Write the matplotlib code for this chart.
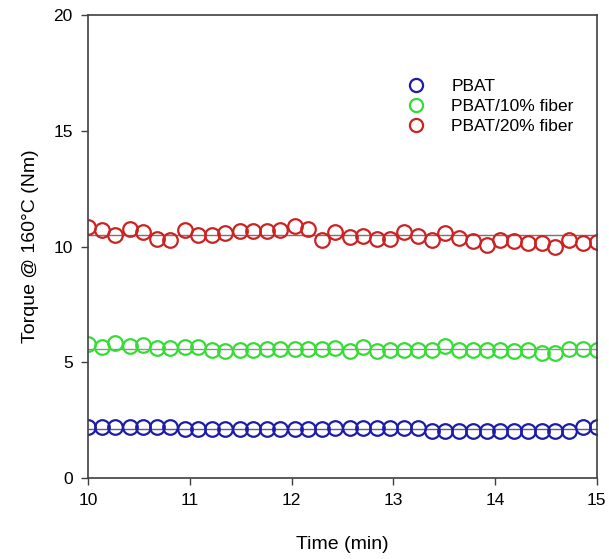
import matplotlib.pyplot as plt

plt.rcParams['font.family'] = ['Liberation Sans', 'DejaVu Sans']

# Tiempo (min)
time = [10.00, 10.14, 10.27, 10.41, 10.54, 10.68, 10.81, 10.95, 11.08, 11.22,
        11.35, 11.49, 11.62, 11.76, 11.89, 12.03, 12.16, 12.30, 12.43, 12.57,
        12.70, 12.84, 12.97, 13.11, 13.24, 13.38, 13.51, 13.65, 13.78, 13.92,
        14.05, 14.19, 14.32, 14.46, 14.59, 14.73, 14.86, 15.00]

# Torque (Nm)
pbat = [2.22, 2.22, 2.22, 2.22, 2.22, 2.22, 2.22, 2.12, 2.12, 2.12,
        2.12, 2.12, 2.12, 2.12, 2.12, 2.12, 2.12, 2.12, 2.15, 2.15,
        2.15, 2.15, 2.15, 2.15, 2.15, 2.05, 2.05, 2.05, 2.05, 2.05,
        2.05, 2.05, 2.05, 2.05, 2.05, 2.05, 2.18, 2.20]
pbat10 = [5.79, 5.67, 5.82, 5.70, 5.75, 5.60, 5.60, 5.65, 5.67, 5.53,
          5.50, 5.53, 5.53, 5.56, 5.56, 5.56, 5.56, 5.56, 5.60, 5.50,
          5.67, 5.50, 5.53, 5.53, 5.53, 5.53, 5.70, 5.53, 5.53, 5.53,
          5.53, 5.50, 5.53, 5.39, 5.41, 5.56, 5.56, 5.53]
pbat20 = [10.86, 10.71, 10.50, 10.74, 10.64, 10.31, 10.28, 10.71, 10.50, 10.50,
          10.60, 10.68, 10.68, 10.68, 10.71, 10.89, 10.74, 10.28, 10.64, 10.40,
          10.45, 10.31, 10.31, 10.64, 10.45, 10.28, 10.57, 10.35, 10.25, 10.06,
          10.28, 10.25, 10.14, 10.14, 9.99, 10.28, 10.16, 10.20]

# Nivel medio de cada serie
niveles = [2.10, 5.56, 10.48]
etiquetas = ['PBAT', 'PBAT/10% fiber', 'PBAT/20% fiber']
colores = ['#1c1caa', '#33dd33', '#cc2222']
colores_linea = ['#5a5a9a', '#7aa07a', '#8a6a6a']

fig = plt.figure(figsize=(6.09, 5.59), dpi=100)
ax = fig.add_axes([0.1445, 0.145, 0.8355, 0.828])

for serie, nivel, etq, c, cl in zip([pbat, pbat10, pbat20], niveles, etiquetas, colores, colores_linea):
    ax.plot([time[0], time[-1]], [nivel, nivel], color=cl, lw=1.0, zorder=1)
    ax.plot(time, serie, 'o', mfc='none', mec=c, mew=1.6, ms=10.5, label=etq, zorder=2)

ax.set_xlim(10, 15)
ax.set_ylim(0, 20)
ax.set_xticks(range(10, 16))
ax.set_yticks([0, 5, 10, 15, 20])
ax.tick_params(direction='out', length=5, width=1, color='#404040', labelsize=12.5, pad=6)
for s in ax.spines.values():
    s.set_color('#404040')
    s.set_linewidth(1.2)

ax.set_xlabel('Time (min)', fontsize=14, labelpad=20)
ax.set_ylabel('Torque @ 160°C (Nm)', fontsize=14, labelpad=10)

ax.legend(loc='upper right', bbox_to_anchor=(0.985, 0.895), frameon=False, fontsize=12.5,
          handletextpad=1.0, labelspacing=0.28, markerscale=0.9)

fig.savefig('out.png')
